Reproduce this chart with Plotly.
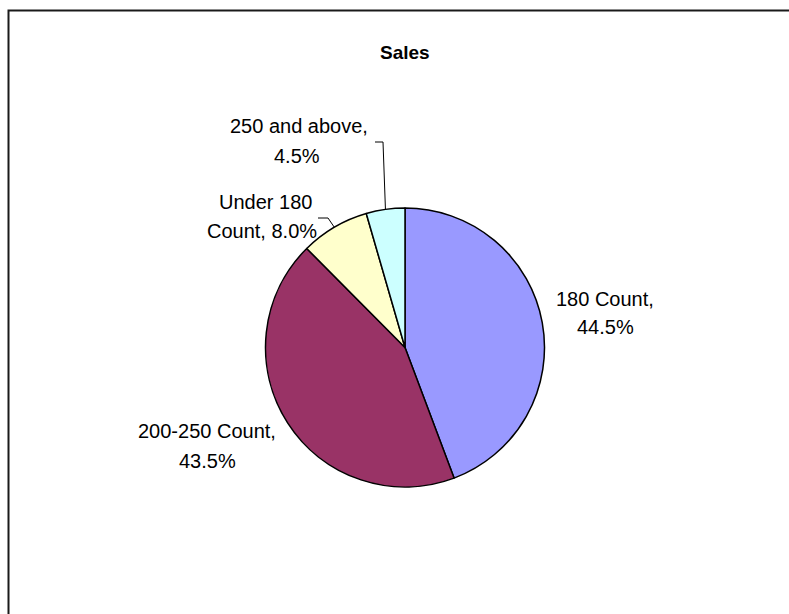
import math
import plotly.graph_objects as go

# Sales share by count bracket (percent)
categories = ["180 Count", "200-250 Count", "Under 180 Count", "250 and above"]
shares = [44.5, 43.5, 8.0, 4.5]
colors = ["#9999FF", "#993366", "#FFFFCC", "#CCFFFF"]

W, H = 789, 614
CX, CY, R = 405.0, 347.5, 139.5          # pie centre / radius in pixels
FONT = "Liberation Sans, Arial, sans-serif"


def px(x):
    return x / W


def py(y):
    return 1 - y / H


# label layout: words on first line, per-line centre x, per-line centre y
label_layout = {
    "180 Count": dict(split=2, x=[605, 605], y=[299, 327]),
    "200-250 Count": dict(split=2, x=[207, 207], y=[431, 461]),
    "Under 180 Count": dict(split=2, x=[265, 262], y=[202, 231]),
    "250 and above": dict(split=3, x=[299, 297], y=[126, 156]),
}
# leader lines: label-side start point and elbow
leaders = {
    "Under 180 Count": [(318, 218), (328, 218)],
    "250 and above": [(375, 142), (383, 142)],
}

fig = go.Figure(
    go.Pie(
        labels=categories,
        values=shares,
        sort=False,
        direction="clockwise",
        rotation=0,
        textinfo="none",
        hoverinfo="label+percent",
        marker=dict(colors=colors, line=dict(color="#000000", width=1.5)),
        domain=dict(x=[px(CX - R), px(CX + R)], y=[py(CY + R), py(CY - R)]),
        showlegend=False,
    )
)

total = sum(shares)
annotations = [
    dict(text="<b>Sales</b>", x=px(405), y=py(52), xref="paper", yref="paper",
         showarrow=False, font=dict(family=FONT, size=19, color="#000000"),
         xanchor="center", yanchor="middle")
]
shapes = [
    # chart area frame
    dict(type="rect", xref="paper", yref="paper",
         x0=px(8.5), x1=px(W + 20), y0=py(H + 20), y1=py(10.5),
         line=dict(color="#1a1a1a", width=2), fillcolor="rgba(0,0,0,0)")
]

cum = 0.0
for cat, val in zip(categories, shares):
    frac = val / total
    theta = 2 * math.pi * (cum + frac / 2)
    cum += frac
    words = f"{cat}, {val:.1f}%".split(" ")
    lay = label_layout[cat]
    lines = [" ".join(words[:lay["split"]]), " ".join(words[lay["split"]:])]
    for i, line in enumerate(lines):
        annotations.append(dict(
            text=line, x=px(lay["x"][i]), y=py(lay["y"][i]),
            xref="paper", yref="paper", showarrow=False,
            font=dict(family=FONT, size=20, color="#000000"),
            xanchor="center", yanchor="middle"))
    if cat in leaders:
        ex = CX + R * math.sin(theta)
        ey = CY - R * math.cos(theta)
        pts = leaders[cat] + [(ex, ey)]
        path = "M " + " L ".join(f"{px(x)},{py(y)}" for x, y in pts)
        shapes.append(dict(type="path", xref="paper", yref="paper", path=path,
                           line=dict(color="#000000", width=1)))

fig.update_layout(
    width=W, height=H,
    margin=dict(l=0, r=0, t=0, b=0),
    paper_bgcolor="#FFFFFF",
    plot_bgcolor="#FFFFFF",
    annotations=annotations,
    shapes=shapes,
)

fig.write_html("out.html")
